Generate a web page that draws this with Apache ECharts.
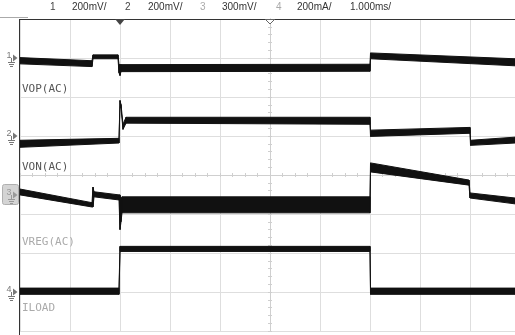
<!DOCTYPE html>
<html><head><meta charset="utf-8">
<script src="https://cdn.jsdelivr.net/npm/echarts@6/dist/echarts.min.js"></script>
<style>html,body{margin:0;padding:0;background:#fff}#c{width:515px;height:335px}</style>
</head><body><div id="c"></div>
<script>
// Time in ms (1.000 ms/div, trigger at centre), vertical in screen divisions (-4..4)
// Each trace is a band: x, upper edge, lower edge
const vopX  = [-5.00, -3.56, -3.54, -3.04, -3.02, -3.00, -2.98, 2.00, 2.01, 4.90];
const vopHi = [ 3.01,  2.93,  3.08,  3.08,  2.83,  2.83,  2.83, 2.84, 3.13, 2.98];
const vopLo = [ 2.85,  2.78,  2.98,  2.98,  2.62,  2.55,  2.65, 2.66, 2.98, 2.80];

const vonX  = [-5.00, -3.02, -3.00, -2.98, -2.94, -2.88, 2.00, 2.01, 4.00, 4.01, 4.90];
const vonHi = [ 0.89,  0.94,  1.91,  1.81,  1.30,  1.48, 1.48, 1.15, 1.22, 0.89, 0.97];
const vonLo = [ 0.71,  0.82,  1.86,  1.71,  1.17,  1.33, 1.30, 0.99, 1.07, 0.76, 0.82];

const vregX  = [-5.00, -3.56, -3.54, -3.52, -3.02, -3.00, -2.98, -2.96,  2.00, 2.01,  3.98,  4.00,  4.90];
const vregHi = [-0.36, -0.71, -0.31, -0.43, -0.51, -0.51, -0.64, -0.56, -0.56, 0.31, -0.13, -0.46, -0.59];
const vregLo = [-0.51, -0.82, -0.82, -0.56, -0.64, -1.40, -1.20, -0.97, -0.97, 0.08, -0.26, -0.59, -0.74];

const iloadX  = [-5.00, -3.02, -3.00,  2.00,  2.01,  4.90];
const iloadHi = [-2.90, -2.90, -1.83, -1.83, -2.90, -2.90];
const iloadLo = [-3.06, -3.06, -1.96, -1.96, -3.06, -3.06];

const chanNums   = ['1', '2', '3', '4'];
const chanScales = ['200mV/', '200mV/', '300mV/', '200mA/'];
const timebase   = '1.000ms/';
const traceNames = ['VOP(AC)', 'VON(AC)', 'VREG(AC)', 'ILOAD'];
const groundLevels = [3, 1, -0.5, -3];
const triggerTime = -3;

const chart = echarts.init(document.getElementById('c'), null, {renderer: 'canvas'});

function band(name, xs, hi, lo) {
  return {
    type: 'custom', name: name, clip: true, silent: true,
    coordinateSystem: 'cartesian2d',
    encode: {x: 0, y: [1, 2]},
    data: xs.map((x, i) => [x, hi[i], lo[i]]),
    renderItem: function (params, api) {
      const i = params.dataIndexInside;
      if (i >= xs.length - 1) return null;
      const a = api.coord([xs[i], hi[i]]);
      const b = api.coord([xs[i + 1], hi[i + 1]]);
      const c = api.coord([xs[i + 1], lo[i + 1]]);
      const d = api.coord([xs[i], lo[i]]);
      return {type: 'polygon', shape: {points: [a, b, c, d]},
              style: {fill: '#111', stroke: '#111', lineWidth: 1}};
    }
  };
}

const gridCol = '#dedede', centreCol = '#cfcfcf';
function xAx(pos, split) {
  return {type: 'value', min: -5, max: 5, interval: 1, position: pos,
    axisLine: {show: true, onZero: true, onZeroAxisIndex: 0, lineStyle: {color: centreCol}},
    axisTick: {show: true, length: 2, lineStyle: {color: centreCol}},
    minorTick: {show: true, splitNumber: 4, length: 2, lineStyle: {color: centreCol}},
    axisLabel: {show: false},
    splitLine: {show: split, lineStyle: {color: gridCol}}};
}
function yAx(pos, split) {
  return {type: 'value', min: -4, max: 4, interval: 1, position: pos,
    axisLine: {show: true, onZero: true, onZeroAxisIndex: 0, lineStyle: {color: centreCol}},
    axisTick: {show: true, length: 2, lineStyle: {color: centreCol}},
    minorTick: {show: true, splitNumber: 5, length: 2, lineStyle: {color: centreCol}},
    axisLabel: {show: false},
    splitLine: {show: split, lineStyle: {color: gridCol}}};
}

chart.setOption({
  animation: false,
  backgroundColor: '#fff',
  grid: {left: 20, top: 19, width: 500, height: 312, containLabel: false, outerBoundsMode: 'none'},
  xAxis: [xAx('bottom', true), xAx('top', false)],
  yAxis: [yAx('left', true), yAx('right', false)],
  series: [
    band(traceNames[0], vopX, vopHi, vopLo),
    band(traceNames[1], vonX, vonHi, vonLo),
    band(traceNames[2], vregX, vregHi, vregLo),
    band(traceNames[3], iloadX, iloadHi, iloadLo)
  ]
});

// Decorations positioned from the axes
const g = [];
const hdrFont = '10px "Liberation Sans", Arial, sans-serif';
const hdr = [
  [chanNums[0], 50, '#444'], [chanScales[0], 72, '#333'],
  [chanNums[1], 125, '#444'], [chanScales[1], 148, '#333'],
  [chanNums[2], 200, '#aaa'], [chanScales[2], 222, '#333'],
  [chanNums[3], 276, '#aaa'], [chanScales[3], 297, '#333'],
  [timebase, 350, '#333']
];
hdr.forEach(h => g.push({type: 'text', x: h[1], y: 7, silent: true,
  style: {text: h[0], fill: h[2], font: hdrFont, verticalAlign: 'middle', align: 'left'}}));

// frame
g.push({type: 'line', shape: {x1: 0, y1: 17.5, x2: 28, y2: 17.5}, style: {stroke: '#aaa', lineWidth: 1}});
g.push({type: 'line', shape: {x1: 19, y1: 19.5, x2: 515, y2: 19.5}, style: {stroke: '#333', lineWidth: 1}, z: 10});
g.push({type: 'line', shape: {x1: 19.5, y1: 19, x2: 19.5, y2: 335}, style: {stroke: '#333', lineWidth: 1}, z: 10});

// trigger markers
const tx = chart.convertToPixel({xAxisIndex: 0}, triggerTime);
const cx = chart.convertToPixel({xAxisIndex: 0}, 0);
g.push({type: 'polygon', shape: {points: [[tx - 5, 19], [tx + 5, 19], [tx, 25]]}, style: {fill: '#444'}, z: 11});
g.push({type: 'polygon', shape: {points: [[cx - 4.5, 19.5], [cx + 4.5, 19.5], [cx, 24]]}, style: {fill: '#fff', stroke: '#666', lineWidth: 1}, z: 11});

// channel ground markers
groundLevels.forEach((lv, k) => {
  const py = Math.round(chart.convertToPixel({yAxisIndex: 0}, lv));
  if (k === 2) {
    g.push({type: 'rect', shape: {x: 2.5, y: py - 10.5, width: 16, height: 20, r: 2},
      style: {fill: '#d4d4d4', stroke: '#b0b0b0', lineWidth: 1}});
  }
  const col = k === 2 ? '#999' : '#777';
  g.push({type: 'text', x: 9, y: py - 2, style: {text: chanNums[k], fill: col,
    font: '9px "Liberation Sans", Arial, sans-serif', align: 'center', verticalAlign: 'middle'}});
  g.push({type: 'polygon', shape: {points: [[13, py - 3.5], [17.5, py], [13, py + 3.5]]}, style: {fill: col}});
  g.push({type: 'line', shape: {x1: 11.5, y1: py, x2: 11.5, y2: py + 4}, style: {stroke: col, lineWidth: 1}});
  g.push({type: 'line', shape: {x1: 8, y1: py + 4.5, x2: 15, y2: py + 4.5}, style: {stroke: col, lineWidth: 1}});
  g.push({type: 'line', shape: {x1: 9, y1: py + 6.5, x2: 14, y2: py + 6.5}, style: {stroke: col, lineWidth: 1}});
  g.push({type: 'line', shape: {x1: 10, y1: py + 8.5, x2: 13, y2: py + 8.5}, style: {stroke: col, lineWidth: 1}});
});

// trace names
const nameFont = '11px "DejaVu Sans Mono", monospace';
const namePos = [[89, '#555'], [167, '#555'], [242, '#aaa'], [308, '#aaa']];
traceNames.forEach((t, k) => g.push({type: 'text', x: 22, y: namePos[k][0],
  style: {text: t, fill: namePos[k][1], font: nameFont, verticalAlign: 'middle', align: 'left'}}));

chart.setOption({graphic: {elements: g}});
</script>
</body></html>
